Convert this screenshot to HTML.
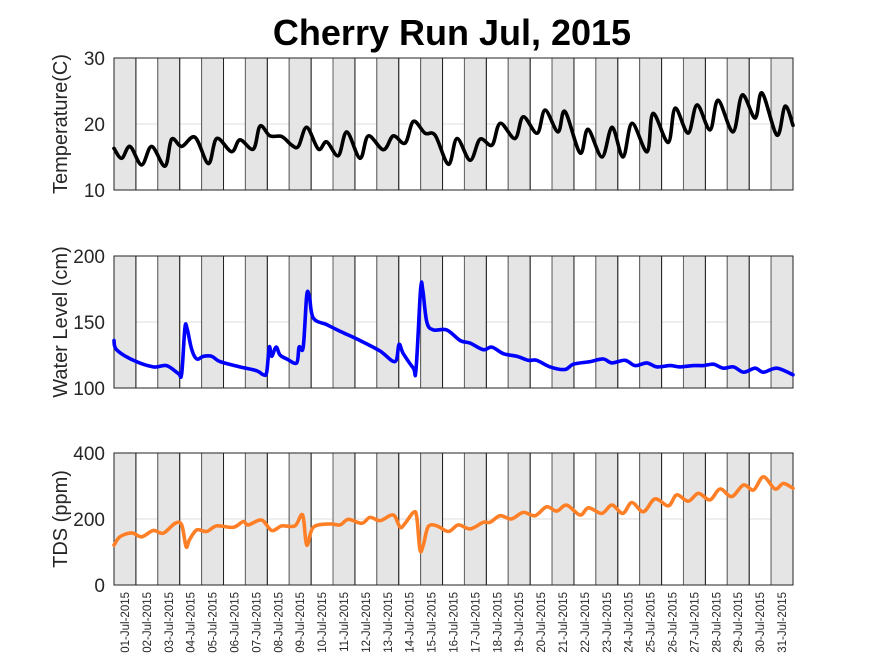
<!DOCTYPE html>
<html><head><meta charset="utf-8"><style>
body{margin:0;background:#fff;}
svg{display:block;font-family:"Liberation Sans",Arial,sans-serif;}
</style></head><body>
<svg id="chart" width="875" height="656" viewBox="0 0 875 656" xmlns="http://www.w3.org/2000/svg">
<rect width="875" height="656" fill="#fff"/>
<text x="452" y="45" text-anchor="middle" font-size="36" font-weight="bold">Cherry Run Jul, 2015</text>
<g id="panels"></g>
</svg>
<script>
// ---- data ----
const dayLabels = ["01-Jul-2015","02-Jul-2015","03-Jul-2015","04-Jul-2015","05-Jul-2015","06-Jul-2015","07-Jul-2015","08-Jul-2015","09-Jul-2015","10-Jul-2015","11-Jul-2015","12-Jul-2015","13-Jul-2015","14-Jul-2015","15-Jul-2015","16-Jul-2015","17-Jul-2015","18-Jul-2015","19-Jul-2015","20-Jul-2015","21-Jul-2015","22-Jul-2015","23-Jul-2015","24-Jul-2015","25-Jul-2015","26-Jul-2015","27-Jul-2015","28-Jul-2015","29-Jul-2015","30-Jul-2015","31-Jul-2015"];
const tempTicks = [10,20,30];
const levelTicks = [100,150,200];
const tdsTicks = [0,200,400];
// time in days since 01-Jul 00:00
const tempT = [0,0.35,0.73,1.26,1.72,2.33,2.63,3.09,3.70,4.31,4.69,5.37,5.75,6.36,6.67,7.12,7.66,8.11,8.42,8.80,9.33,9.71,10.24,10.63,11.23,11.61,12.30,12.75,13.29,13.67,14.20,14.66,15.27,15.66,16.26,16.71,17.26,17.63,18.31,18.68,19.32,19.68,20.27,20.59,21.28,21.64,22.28,22.74,23.24,23.65,24.34,24.61,25.30,25.62,26.21,26.62,27.21,27.58,28.26,28.68,29.27,29.59,30.27,30.64,31];
const tempV = [16.3,14.8,16.6,13.8,16.6,13.6,17.7,16.6,18.0,14.0,17.8,15.8,17.6,16.2,19.7,18.2,18.1,16.8,16.6,19.5,16.2,17.3,15.2,18.8,14.8,18.2,16.1,18.2,17.1,20.4,18.6,18.3,13.9,17.8,14.5,17.7,16.8,20.1,17.8,21.1,18.6,22.1,18.8,21.9,15.6,19.2,15.0,19.5,15.0,20.1,15.8,21.6,17.2,22.4,18.6,22.9,19.1,23.6,18.8,24.4,20.9,24.7,18.3,22.7,19.8];
const levelT = [0,0.12,0.88,1.79,2.40,2.94,3.09,3.24,3.35,3.55,3.78,4.08,4.46,4.84,5.75,6.52,6.82,6.97,7.09,7.20,7.40,7.58,7.89,8.34,8.45,8.64,8.80,8.92,9.10,9.71,10.32,11.23,12.15,12.83,13.01,13.21,13.67,13.79,14.00,14.10,14.28,14.58,15.19,15.80,16.26,16.86,17.25,17.78,18.39,18.92,19.30,19.91,20.59,20.97,21.74,22.34,22.73,23.33,23.79,24.32,24.78,25.39,25.84,26.45,26.91,27.37,27.82,28.28,28.74,29.27,29.65,30.26,31];
const levelV = [136,129,121,116,117,111,111,146,144,129,122,124,124,120,116,113,110,112,131,124,131,125,122,119,131,131,170,169,153,148,143,136,128,120,133,126,115,114,175,174,150,144,144,136,134,129,131,126,124,121,121,116,114,118,120,122,119,121,117,119,116,117,116,117,117,118,115,116,112,115,112,115,110];
const tdsT = [0,0.27,0.81,1.26,1.79,2.25,2.79,3.09,3.29,3.44,3.78,4.23,4.69,5.45,5.90,6.13,6.74,7.20,7.66,8.26,8.61,8.80,9.10,9.86,10.32,10.70,11.31,11.69,12.15,12.75,13.06,13.29,13.67,13.82,13.97,14.12,14.35,14.74,15.27,15.72,16.26,16.86,17.17,17.63,18.14,18.68,19.22,19.75,20.21,20.67,21.28,21.66,22.27,22.73,23.23,23.64,24.17,24.70,25.31,25.69,26.22,26.68,27.21,27.67,28.20,28.74,29.20,29.65,30.18,30.56,31];
const tdsV = [121,146,158,146,165,157,187,182,116,136,167,162,179,175,192,182,197,165,179,179,212,121,175,185,182,199,187,205,195,212,175,187,220,207,106,121,177,179,162,182,170,190,190,210,200,220,210,237,224,242,212,234,217,242,217,250,222,261,240,273,254,278,258,291,268,303,288,328,291,308,293];

// ---- layout ----
const X0 = 114, X1 = 793, NDAYS = 31;
const xScale = t => X0 + (X1 - X0) * t / NDAYS;
const panels = [
  {name:"temperature", top:58, bot:190, min:10, max:30, ticks:tempTicks, grid:20, title:"Temperature(C)", t:tempT, v:tempV, color:"#000000"},
  {name:"water-level", top:256, bot:388, min:100, max:200, ticks:levelTicks, grid:150, title:"Water Level (cm)", t:levelT, v:levelV, color:"#0000ff"},
  {name:"tds", top:453, bot:585, min:0, max:400, ticks:tdsTicks, grid:200, title:"TDS (ppm)", t:tdsT, v:tdsV, color:"#ff7f27"}
];
const NS = "http://www.w3.org/2000/svg";
const root = document.getElementById("panels");
function mk(tag, attrs, parent){ const e=document.createElementNS(NS,tag); for(const k in attrs) e.setAttribute(k,attrs[k]); (parent||root).appendChild(e); return e; }

function smoothPath(pts){
  let d = "M"+pts[0][0].toFixed(1)+","+pts[0][1].toFixed(1);
  for(let i=0;i<pts.length-1;i++){
    const p0=pts[Math.max(0,i-1)], p1=pts[i], p2=pts[i+1], p3=pts[Math.min(pts.length-1,i+2)];
    const c1x=p1[0]+(p2[0]-p0[0])/6, c1y=p1[1]+(p2[1]-p0[1])/6;
    const c2x=p2[0]-(p3[0]-p1[0])/6, c2y=p2[1]-(p3[1]-p1[1])/6;
    d += " C"+c1x.toFixed(1)+","+c1y.toFixed(1)+" "+c2x.toFixed(1)+","+c2y.toFixed(1)+" "+p2[0].toFixed(1)+","+p2[1].toFixed(1);
  }
  return d;
}

panels.forEach(p=>{
  const g = mk("g",{});
  
  
  const yScale = v => p.bot - (p.bot - p.top) * (v - p.min) / (p.max - p.min);
  const gl = mk("line",{x1:X0,x2:X1,y1:yScale(p.grid),y2:yScale(p.grid),stroke:"#dcdcdc","stroke-width":1},g);
  
  
  for(let d=0; d<NDAYS; d++){
    const r = mk("rect",{x:xScale(d),y:p.top,width:xScale(d+1)-xScale(d),height:p.bot-p.top,
      fill: d%2===0 ? "#e5e5e5" : "none", stroke: d%2===0 ? "#666" : "#222","stroke-width":1},g);
    
    
  }
  const box = mk("rect",{x:X0,y:p.top,width:X1-X0,height:p.bot-p.top,fill:"none",stroke:"#222","stroke-width":1},g);
  
  
  p.ticks.forEach(tv=>{
    const t = mk("text",{x:105,y:yScale(tv)+7,"text-anchor":"end","font-size":19,fill:"#262626"},g);
    t.textContent = tv;
    
    
  });
  const cy = (p.top+p.bot)/2;
  const at = mk("text",{x:0,y:0,transform:"translate(67,"+cy+") rotate(-90)","text-anchor":"middle","font-size":20,fill:"#262626"},g);
  at.textContent = p.title;
  
  
  const pts = p.t.map((t,i)=>[xScale(t), yScale(p.v[i])]);
  const line = mk("path",{d:smoothPath(pts),fill:"none",stroke:p.color,"stroke-width":3.6,"stroke-linejoin":"round","stroke-linecap":"round"},g);
  
  
});

dayLabels.forEach((lab,i)=>{
  const cx = xScale(i+0.5) + 4;
  const t = mk("text",{x:0,y:0,transform:"translate("+cx.toFixed(1)+",592) rotate(-90)","text-anchor":"end","font-size":11.5,fill:"#262626"});
  t.textContent = lab;
  
  
});
</script>
</body></html>
